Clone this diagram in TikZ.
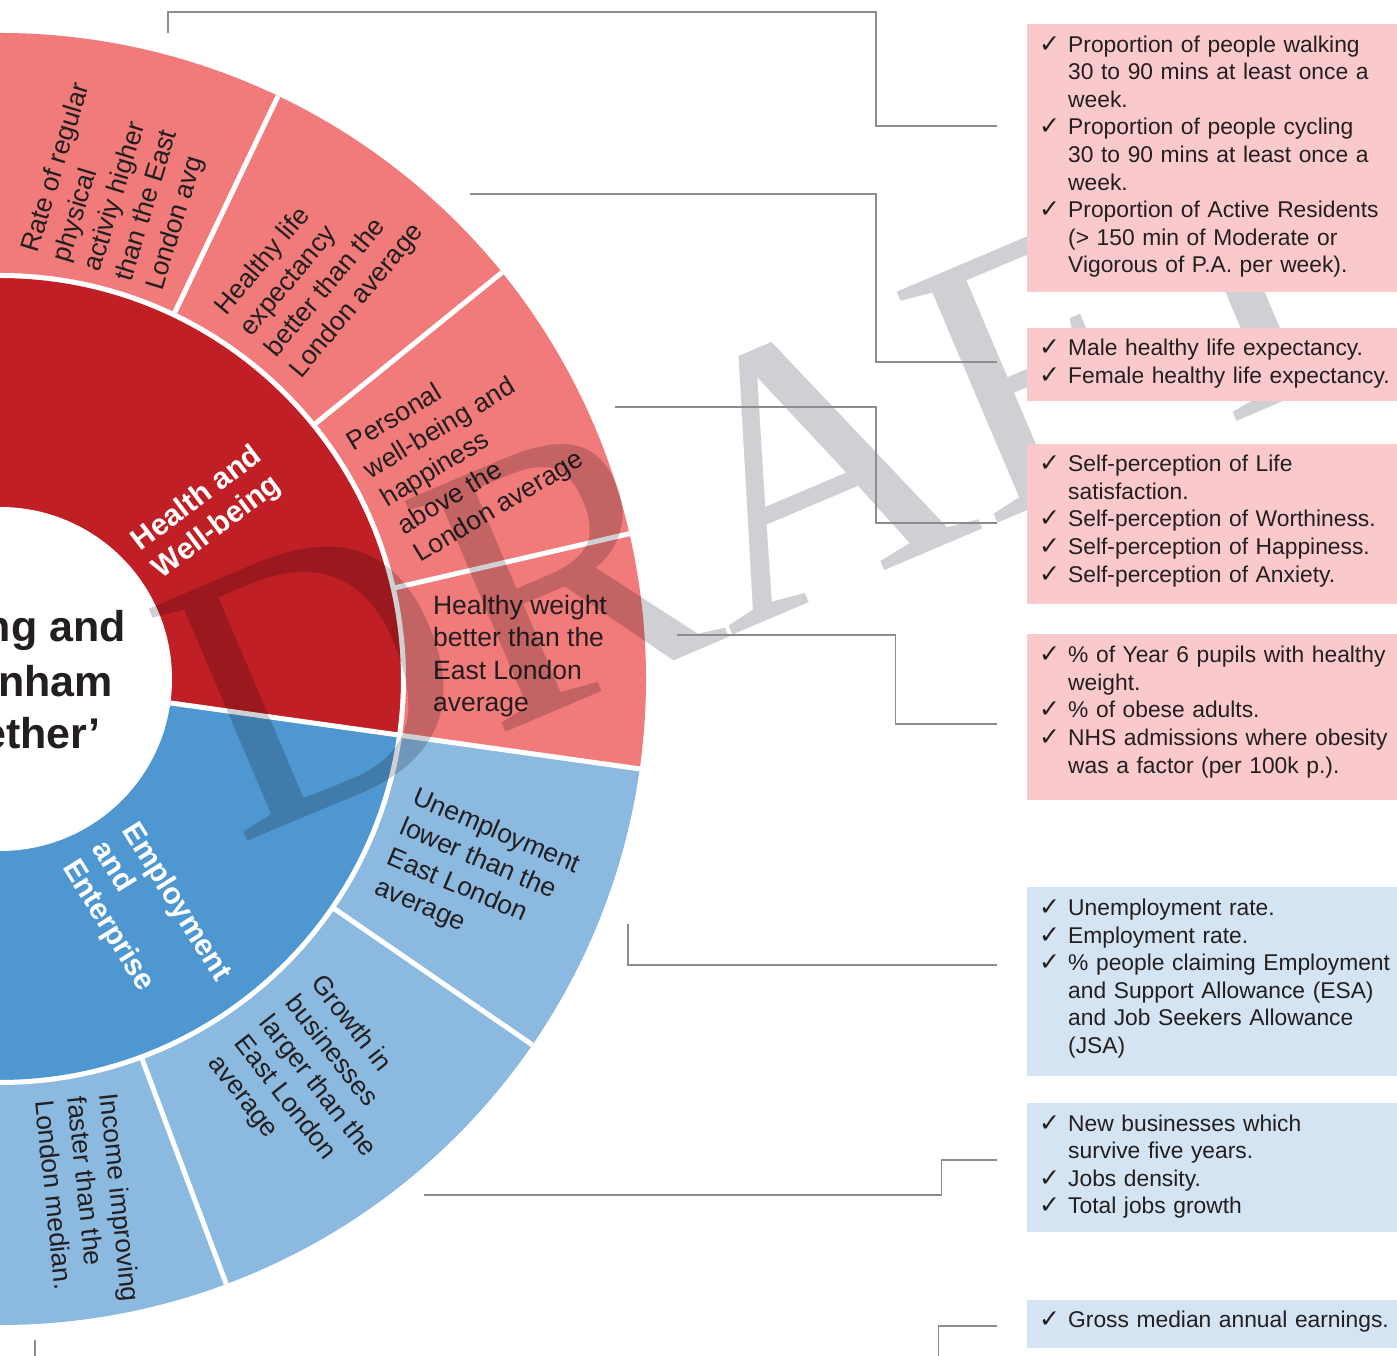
\documentclass[tikz,border=0pt]{standalone}
\usepackage{fontspec}
\setmainfont{Liberation Sans}
\newfontfamily\checkfont{DejaVu Sans}
\newfontfamily\draftfont{Liberation Serif}
\usepackage{tikz}

\definecolor{ringred}{RGB}{241,122,122}
\definecolor{hubred}{RGB}{192,31,37}
\definecolor{hubblue}{RGB}{79,151,208}
\definecolor{ringblue}{RGB}{139,185,224}
\definecolor{boxpink}{RGB}{249,201,203}
\definecolor{boxblue}{RGB}{212,228,242}
\definecolor{linkgray}{RGB}{140,140,140}
\definecolor{inkblack}{RGB}{35,31,32}
\definecolor{draftgray}{RGB}{207,208,211}

\newcommand{\tck}{\makebox[29pt][l]{\fontsize{25}{25}\checkfont ✓}}
\newcommand{\ind}{\hspace*{29pt}}

\begin{document}
\begin{tikzpicture}[x=1pt,y=1pt,
    link/.style={draw=linkgray,line width=1.5pt},
    gap/.style={draw=white,line width=5pt},
    seglabel/.style={align=left,inner sep=0pt,text=inkblack,font=\fontsize{26.5}{32.5}\selectfont},
    hublabel/.style={align=left,inner sep=0pt,text=white,font=\bfseries\fontsize{30}{35}\selectfont},
    titletext/.style={anchor=base east,inner sep=0pt,text=inkblack,font=\bfseries\fontsize{43}{53}\selectfont},
    redlist/.style={anchor=north west,fill=boxpink,text=inkblack,text width=360pt,inner xsep=12pt,inner ysep=0pt,align=left,font=\fontsize{22.8}{27.6}\selectfont},
    bluelist/.style={redlist,fill=boxblue},
    lift/.style={execute at end node={\rule[-#1pt]{0pt}{#1pt}}}]
   \useasboundingbox (0,0) rectangle (1397,1356);
   \clip (0,0) rectangle (1397,1356);
   \coordinate (O) at (0,677);
   % rings
   \fill[ringred] (O) -- ++(-8:646) arc[start angle=-8,end angle=100,radius=646] -- cycle;
   \fill[ringblue] (O) -- ++(-100:646) arc[start angle=-100,end angle=-8,radius=646] -- cycle;
   \fill[hubred] (O) -- ++(-8:401) arc[start angle=-8,end angle=100,radius=401] -- cycle;
   \fill[hubblue] (O) -- ++(-100:401) arc[start angle=-100,end angle=-8,radius=401] -- cycle;
   \fill[white] (O) circle[radius=172];
   \draw[gap] (O) circle[radius=403.5];
   \draw[gap] ([shift={(-8:172)}]O) -- ([shift={(-8:646)}]O);
   \foreach \a in {64.5,39,13,-34.5,-69.5}
       \draw[gap] ([shift={(\a:403)}]O) -- ([shift={(\a:646)}]O);

   \node[seglabel,rotate=73] (rate) at (119,1169) {Rate of regular\\physical\\activiy higher\\than the East\\London avg};
   \node[seglabel,rotate=50] (lifeexp) at (320,1086) {Healthy life\\expectancy\\better than the\\London average};
   \node[seglabel,rotate=31] (happy) at (466,904) {Personal\\well-being and\\happiness\\above the\\London average};
   \node[seglabel] (weight) at (520,700) {Healthy weight\\better than the\\East London\\average};
   \node[seglabel,rotate=-23] (unemp) at (477,479) {Unemployment\\lower than the\\East London\\average};
   \node[seglabel,rotate=-52] (growth) at (317,269) {Growth in\\businesses\\larger than the\\East London\\average};
   \node[seglabel,rotate=-84] (income) at (88,155) {Income improving\\faster than the\\London median.};
   \node[hublabel,rotate=37] (health) at (208,843) {Health and\\Well-being};
   \node[hublabel,rotate=-58] (employ) at (146,435) {Employment\\and\\Enterprise};

   \node[titletext] (title1) at (126,714) {ng and};
   \node[titletext] (title2) at (113,659) {nham};
   \node[titletext] (title3) at (101,607) {ether’};

   % watermark
   \begin{scope}[blend mode=multiply]
       \node[anchor=base west,inner sep=0pt,rotate=23,text=draftgray,font=\draftfont\fontsize{385}{385}\selectfont] (draft) at (237,510) {DRAFT};
   \end{scope}

   % indicator boxes
   \node[redlist,lift=8,minimum height=268pt] (b1) at (1027,1332) {\tck Proportion of people walking\\\ind 30 to 90 mins at least once a\\\ind week.\\\tck Proportion of people cycling\\\ind 30 to 90 mins at least once a\\\ind week.\\\tck Proportion of Active Residents\\\ind (> 150 min of Moderate or\\\ind Vigorous of P.A. per week).};
   \node[redlist,lift=7,minimum height=73pt] (b2) at (1027,1028) {\tck Male healthy life expectancy.\\\tck Female healthy life expectancy.};
   \node[redlist,lift=11,minimum height=160pt] (b3) at (1027,912) {\tck Self-perception of Life\\\ind satisfaction.\\\tck Self-perception of Worthiness.\\\tck Self-perception of Happiness.\\\tck Self-perception of Anxiety.};
   \node[redlist,lift=15,minimum height=166pt] (b4) at (1027,722) {\tck \% of Year 6 pupils with healthy\\\ind weight.\\\tck \% of obese adults.\\\tck NHS admissions where obesity\\\ind was a factor (per 100k p.).};
   \node[bluelist,lift=11,minimum height=189pt] (b5) at (1027,469) {\tck Unemployment rate.\\\tck Employment rate.\\\tck \% people claiming Employment\\\ind and Support Allowance (ESA)\\\ind and Job Seekers Allowance\\\ind (JSA)};
   \node[bluelist,lift=7,minimum height=129pt] (b6) at (1027,253) {\tck New businesses which\\\ind survive five years.\\\tck Jobs density.\\\tck Total jobs growth};
   \node[bluelist,lift=9,minimum height=48pt] (b7) at (1027,56) {\tck Gross median annual earnings.};

   % connectors
   \coordinate (a1) at (168,1323);
   \coordinate (a2) at (470,1162);
   \coordinate (a3) at (615,949);
   \coordinate (a4) at (677,721);
   \coordinate (a5) at (628,432);
   \coordinate (a6) at (424,161);
   \coordinate (a7) at (35,16);
   \coordinate (k1) at (876,1344);
   \coordinate (k2) at (876,994);
   \coordinate (k3) at (876,833);
   \coordinate (k4) at (895.5,632);
   \coordinate (k6) at (941.5,196);
   \coordinate (k7) at (938.5,-10);
   \coordinate (e1) at ([xshift=-30pt,yshift=-102pt]b1.north west);
   \coordinate (e2) at ([xshift=-30pt,yshift=-34pt]b2.north west);
   \coordinate (e3) at ([xshift=-30pt,yshift=-79pt]b3.north west);
   \coordinate (e4) at ([xshift=-30pt,yshift=-90pt]b4.north west);
   \coordinate (e5) at ([xshift=-30pt,yshift=-78pt]b5.north west);
   \coordinate (e6) at ([xshift=-30pt,yshift=-57pt]b6.north west);
   \coordinate (e7) at ([xshift=-30pt,yshift=-26pt]b7.north west);
   \draw[link] (a1) |- (k1) |- (e1);
   \draw[link] (a2) -| (k2) -- (e2);
   \draw[link] (a3) -| (k3) -- (e3);
   \draw[link] (a4) -| (k4) -- (e4);
   \draw[link] (a5) |- (e5);
   \draw[link] (a6) -| (k6) -- (e6);
   \draw[link] (a7) |- (k7) |- (e7);
\end{tikzpicture}
\end{document}
